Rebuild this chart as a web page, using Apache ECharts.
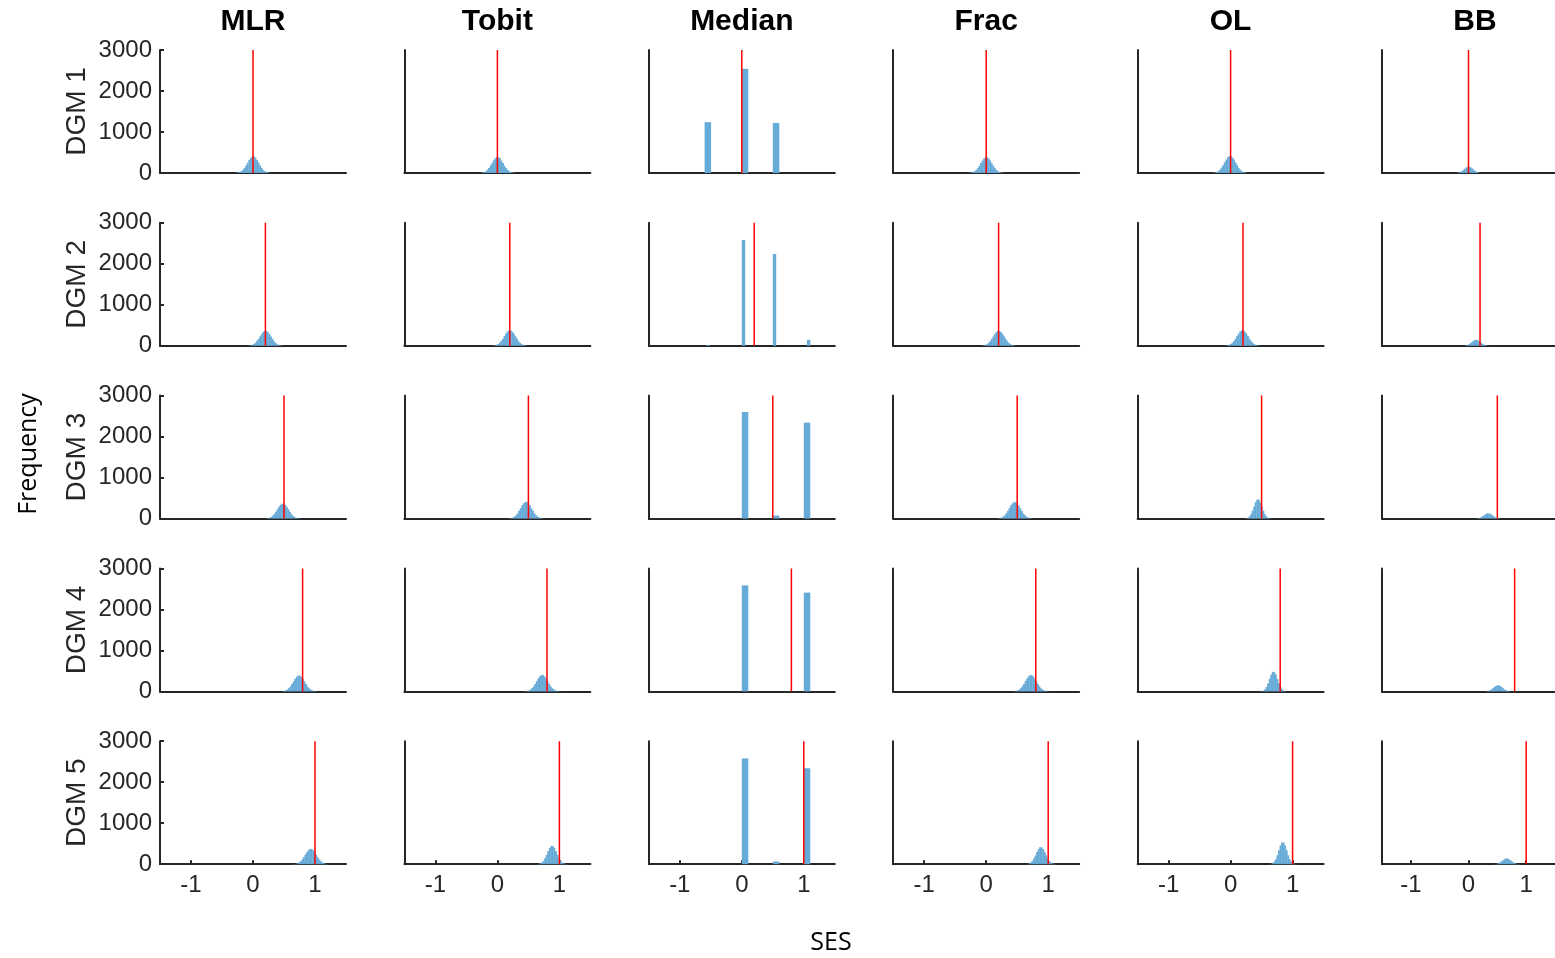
<!DOCTYPE html>
<html>
<head>
<meta charset="utf-8">
<script src="https://cdn.jsdelivr.net/npm/echarts@6/dist/echarts.min.js"></script>
<style>
  html, body { margin: 0; background: #fff; }
  #chart { width: 1555px; height: 958px; }
</style>
</head>
<body>
<div id="chart"></div>
<script>
const methods = ['MLR', 'Tobit', 'Median', 'Frac', 'OL', 'BB'];
const dgms = ['DGM 1', 'DGM 2', 'DGM 3', 'DGM 4', 'DGM 5'];
const trueSES = [0, 0.2, 0.5, 0.8, 1.0];
const xTicks = [-1, 0, 1];
const BIN = 0.025;

// left edge of first bin, per DGM
const mlrStart = [-0.3, -0.1, 0.18, 0.44, 0.63];
const tobitStart = [-0.3, -0.1, 0.16, 0.42, 0.63];
const fracStart = [-0.3, -0.1, 0.16, 0.42, 0.63];
const olStart = [-0.31, -0.11, 0.215, 0.465, 0.615];
const bbStart = [-0.25, -0.12, 0.09, 0.26, 0.41];

// bin counts
const mlr1 = [3,5,14,24,47,81,124,188,250,321,368,398,407,375,315,255,182,128,77,48,24,13,5,2];
const mlr2 = [2,5,12,22,43,71,116,166,230,286,338,360,365,333,290,226,170,112,73,41,23,11,5,2];
const mlr3 = [2,5,12,22,42,72,113,168,226,288,335,362,364,334,287,228,167,114,71,42,22,11,5,2];
const mlr4 = [2,5,12,24,45,76,121,178,243,306,358,386,389,357,307,242,179,120,76,44,24,12,6,2];
const mlr5 = [2,5,11,23,43,73,116,171,232,293,342,369,371,341,294,231,172,115,74,42,23,11,5,2];

const tobit1 = [2,6,11,25,43,78,119,181,240,309,355,389,384,360,304,246,176,123,75,45,23,12,6,2];
const tobit2 = [2,6,11,24,44,73,120,172,239,297,350,374,378,345,301,235,176,116,75,42,24,12,5,2];
const tobit3 = [2,6,12,26,46,81,126,190,253,324,374,404,409,373,324,252,190,126,81,46,26,12,6,2];
const tobit4 = [2,6,12,25,46,78,124,183,249,314,367,396,398,366,315,248,184,124,78,45,25,12,6,2];
const tobit5 = [3,8,19,44,83,148,226,320,395,447,441,399,316,229,145,85,42,20,8,3];

const frac1 = [3,5,12,23,45,74,122,175,242,300,356,379,383,350,305,238,178,118,76,43,25,11,5,2];
const frac2 = [2,5,11,24,41,73,113,169,227,290,334,363,360,337,286,230,167,115,71,43,22,11,5,2];
const frac3 = [2,5,13,25,46,79,127,185,252,318,372,400,402,371,318,253,185,126,79,47,25,12,6,2];
const frac4 = [2,5,13,24,45,79,125,182,250,313,366,397,395,368,313,250,182,125,77,46,24,13,5,2];
const frac5 = [3,7,18,41,78,138,211,298,368,416,412,371,295,214,136,80,40,18,8,3];

const ol1 = [2,6,14,25,48,80,131,188,261,324,383,409,414,379,328,257,192,127,82,46,27,12,6,2];
const ol2 = [2,5,12,23,45,72,119,173,238,296,351,373,379,346,300,236,175,117,76,43,23,12,6,2];
const ol3 = [2,7,22,51,104,192,294,400,461,466,396,298,188,106,49,21,8,2];
const ol4 = [2,8,22,51,110,195,308,409,478,474,413,304,197,108,53,21,8,2];
const ol5 = [3,9,23,59,120,219,338,459,532,528,458,341,217,122,57,24,9,3];

const bb1 = [1,3,7,14,30,49,79,108,138,152,155,135,111,77,51,28,15,7,3,1];
const bb2 = [1,3,6,15,27,46,75,102,130,143,146,127,104,73,48,26,14,6,3,1];
const bb3 = [1,2,6,13,23,43,65,93,114,129,127,116,91,67,41,24,12,6,2,1];
const bb4 = [1,3,7,15,28,48,77,105,133,147,150,131,107,75,49,27,14,7,3,1];
const bb5 = [1,2,6,14,26,45,72,98,124,137,140,122,100,70,46,26,13,6,3,1];

// median: [left, right, count]
const median1 = [[-0.6,-0.5,1240],[0,0.1,2540],[0.5,0.6,1220]];
const median2 = [[-0.575,-0.525,20],[0,0.05,2580],[0.5,0.55,2238],[1.05,1.1,146]];
const median3 = [[0,0.1,2600],[0.5,0.6,75],[1.0,1.1,2340]];
const median4 = [[0,0.1,2585],[1.0,1.1,2410]];
const median5 = [[0,0.1,2580],[0.5,0.6,65],[1.0,1.1,2340]];

const toBins = (start, counts) => counts.map((v, i) => [start + i * BIN, start + (i + 1) * BIN, v]);

const panels = [
  [toBins(mlrStart[0], mlr1), toBins(tobitStart[0], tobit1), median1, toBins(fracStart[0], frac1), toBins(olStart[0], ol1), toBins(bbStart[0], bb1)],
  [toBins(mlrStart[1], mlr2), toBins(tobitStart[1], tobit2), median2, toBins(fracStart[1], frac2), toBins(olStart[1], ol2), toBins(bbStart[1], bb2)],
  [toBins(mlrStart[2], mlr3), toBins(tobitStart[2], tobit3), median3, toBins(fracStart[2], frac3), toBins(olStart[2], ol3), toBins(bbStart[2], bb3)],
  [toBins(mlrStart[3], mlr4), toBins(tobitStart[3], tobit4), median4, toBins(fracStart[3], frac4), toBins(olStart[3], ol4), toBins(bbStart[3], bb4)],
  [toBins(mlrStart[4], mlr5), toBins(tobitStart[4], tobit5), median5, toBins(fracStart[4], frac5), toBins(olStart[4], ol5), toBins(bbStart[4], bb5)]
];

const FONT = 'Liberation Sans, Arial, sans-serif';
const AXIS = '#262626';
const LEFT0 = 160, COLW = 244.4, PW = 186;
const TOP0 = 50, ROWH = 172.8, PH = 123;

const grid = [], xAxis = [], yAxis = [], series = [];
const graphic = [];

dgms.forEach((d, r) => {
  methods.forEach((m, c) => {
    const idx = grid.length;
    grid.push({left: LEFT0 + c * COLW, top: TOP0 + r * ROWH, width: PW, height: PH});
    const last = r === dgms.length - 1;
    xAxis.push({
      type: 'value', gridIndex: idx, min: -1.5, max: 1.5,
      axisLine: {show: true, onZero: false, lineStyle: {color: AXIS, width: 2}},
      axisTick: {show: last, inside: true, length: 4, customValues: xTicks, lineStyle: {color: AXIS, width: 2}},
      axisLabel: {show: last, customValues: xTicks, fontSize: 24, color: AXIS, fontFamily: FONT, margin: 9},
      splitLine: {show: false}
    });
    yAxis.push({
      type: 'value', gridIndex: idx, min: 0, max: 3000, interval: 1000,
      axisLine: {show: true, onZero: false, lineStyle: {color: AXIS, width: 2}},
      axisTick: {show: c === 0, inside: true, length: 4, lineStyle: {color: AXIS, width: 2}},
      axisLabel: {show: c === 0, fontSize: 24, color: AXIS, fontFamily: FONT, margin: 8, formatter: v => String(v)},
      splitLine: {show: false}
    });
    series.push({
      type: 'custom', xAxisIndex: idx, yAxisIndex: idx,
      data: panels[r][c],
      encode: {x: [0, 1], y: 2},
      renderItem: (params, api) => {
        const p0 = api.coord([api.value(0), api.value(2)]);
        const p1 = api.coord([api.value(1), 0]);
        return {
          type: 'rect',
          shape: {x: p0[0], y: p0[1], width: p1[0] - p0[0] + 0.3, height: p1[1] - p0[1]},
          style: {fill: '#66aad7'}
        };
      },
      z: 2
    });
    series.push({
      type: 'line', xAxisIndex: idx, yAxisIndex: idx,
      data: [[trueSES[r], 0], [trueSES[r], 3000]],
      symbol: 'none', silent: true,
      lineStyle: {color: '#ff0000', width: 1.5},
      z: 3
    });
  });
  graphic.push({
    type: 'text', x: 77, y: TOP0 + r * ROWH + PH / 2, rotation: Math.PI / 2,
    style: {text: d, font: '28px ' + FONT, fill: AXIS, align: 'center', verticalAlign: 'middle'}
  });
});

methods.forEach((m, c) => {
  graphic.push({
    type: 'text', x: LEFT0 + c * COLW + PW / 2, y: 22,
    style: {text: m, font: 'bold 30px ' + FONT, fill: '#000', align: 'center', verticalAlign: 'middle'}
  });
});
graphic.push({
  type: 'text', x: 29, y: 454, rotation: Math.PI / 2,
  style: {text: 'Frequency', font: '25px "Open Sans", sans-serif', fill: '#000', align: 'center', verticalAlign: 'middle'}
});
graphic.push({
  type: 'text', x: 831, y: 943,
  style: {text: 'SES', font: '25px "Open Sans", sans-serif', fill: '#000', align: 'center', verticalAlign: 'middle'}
});

const chart = echarts.init(document.getElementById('chart'));
chart.setOption({
  animation: false,
  backgroundColor: '#fff',
  grid, xAxis, yAxis, series, graphic
});
</script>
</body>
</html>
